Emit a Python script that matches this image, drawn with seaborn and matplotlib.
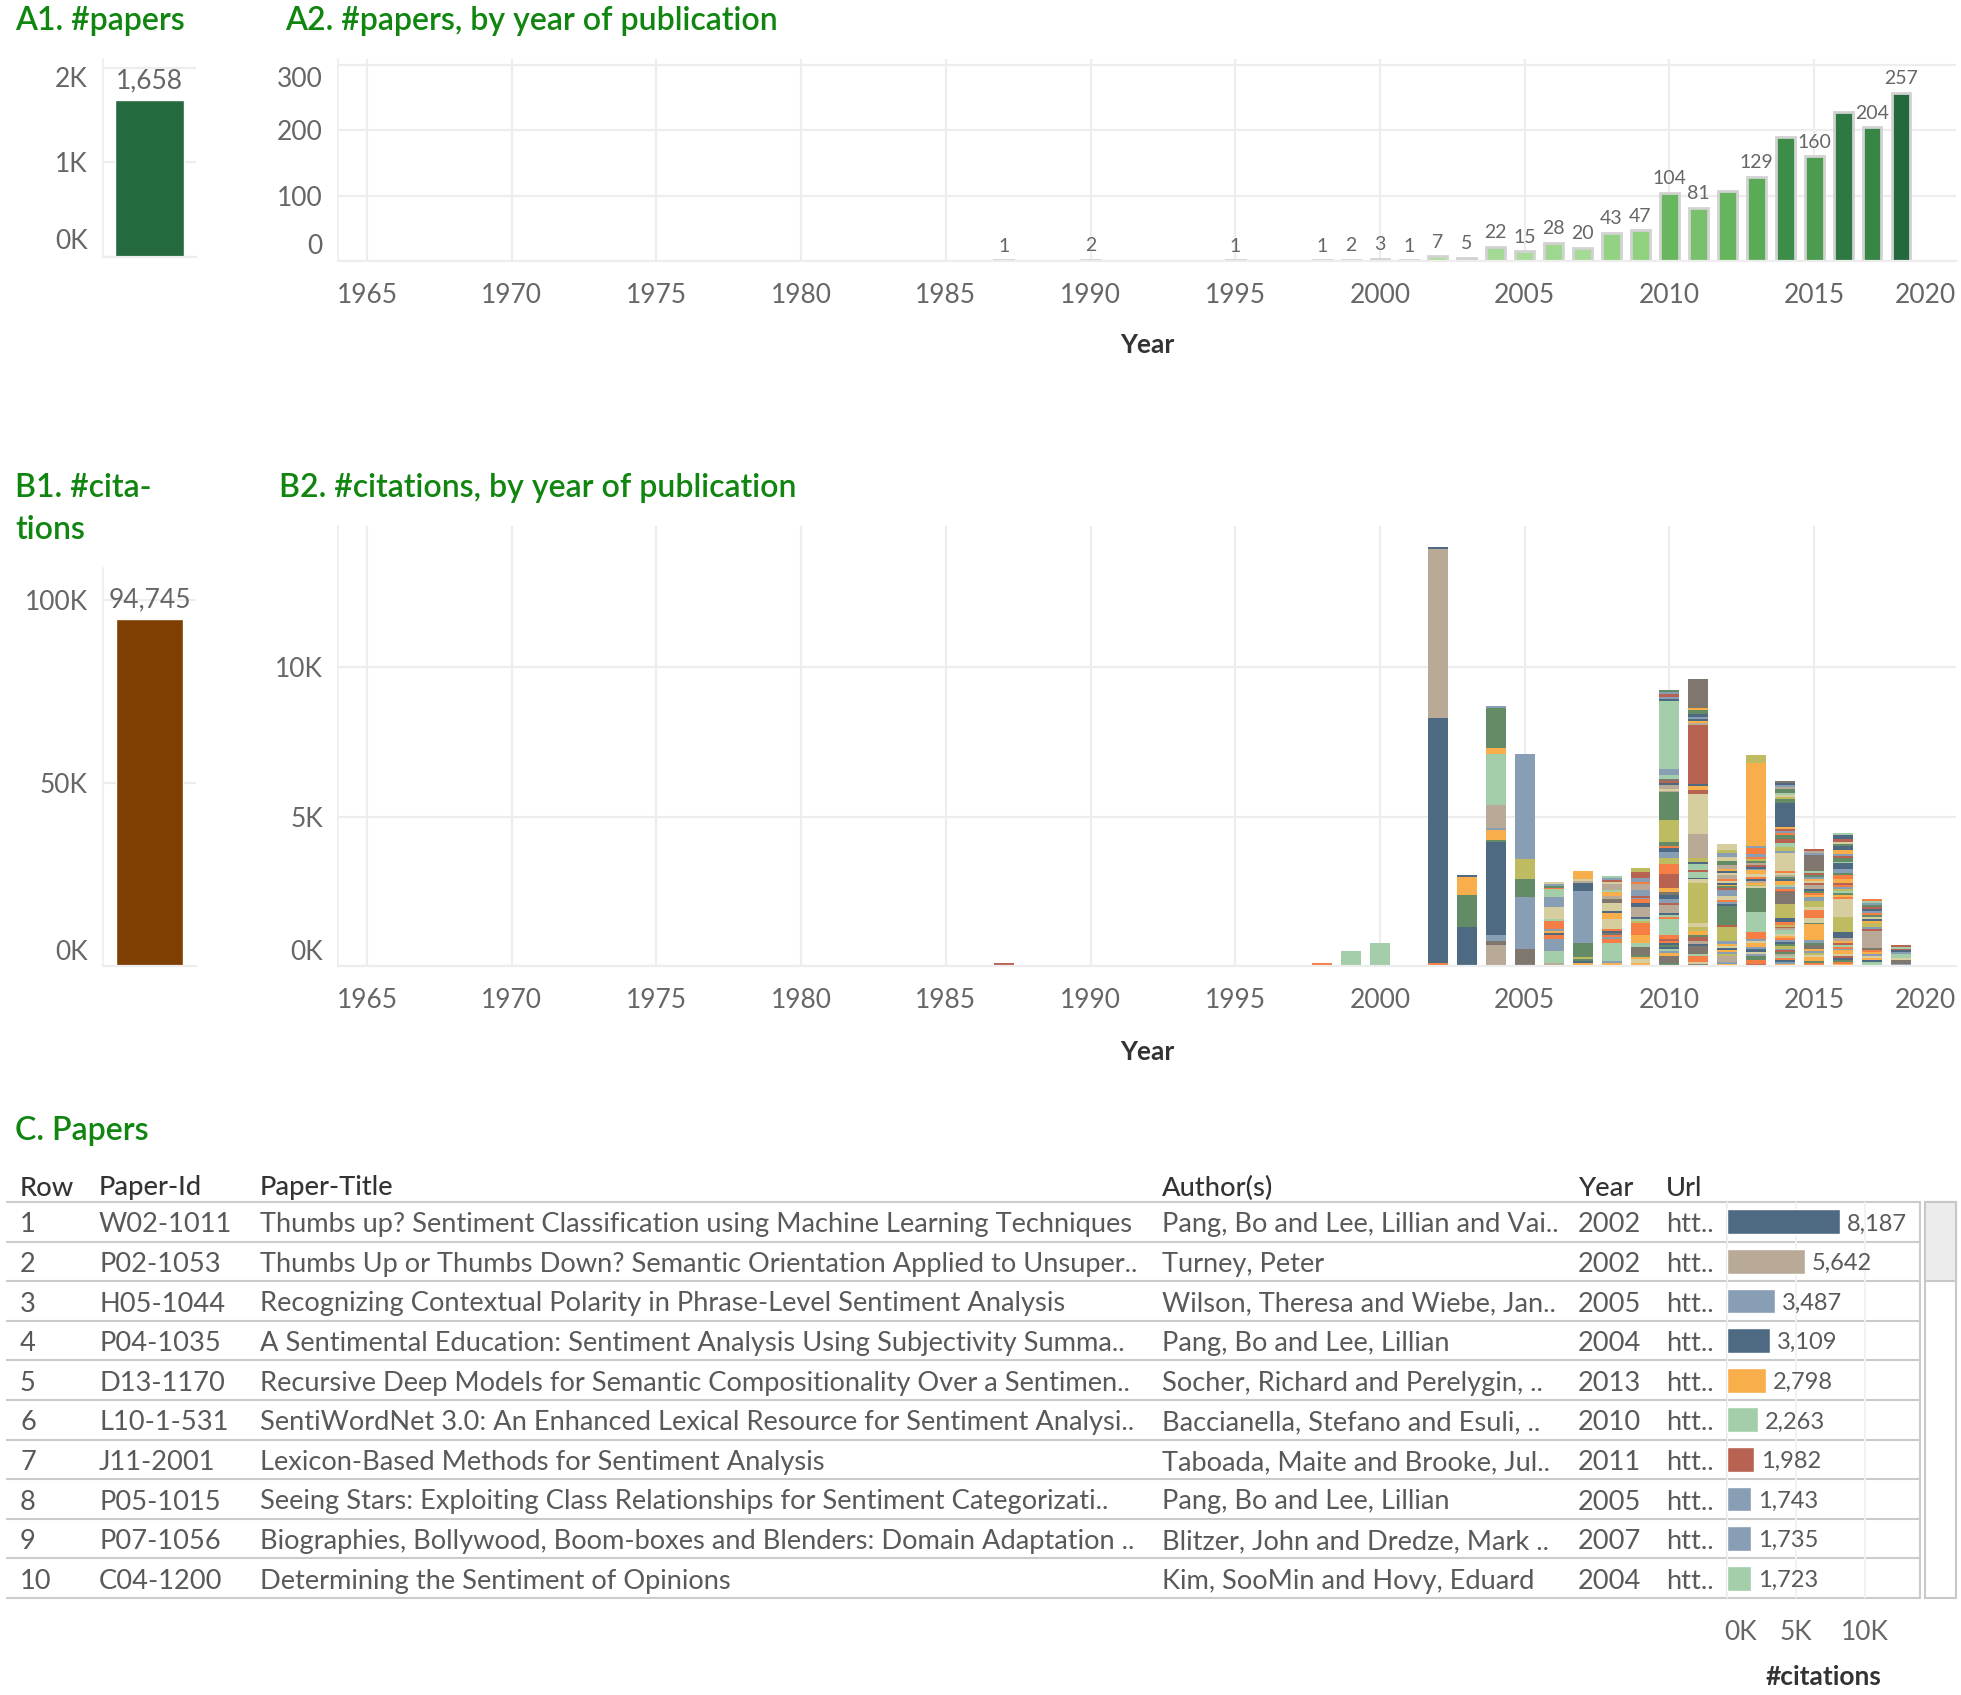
import numpy as np
import pandas as pd
import matplotlib
matplotlib.use("Agg")
import matplotlib.pyplot as plt
import matplotlib.transforms as mtransforms
from matplotlib.colors import LinearSegmentedColormap, Normalize
from matplotlib.patches import Rectangle
import seaborn as sns

# ---------------- data ----------------
total_papers = 1658
total_citations = 94745

years_a = [1987, 1990, 1995, 1998, 1999, 2000, 2001, 2002, 2003, 2004, 2005, 2006,
           2007, 2008, 2009, 2010, 2011, 2012, 2013, 2014, 2015, 2016, 2017, 2018]
papers_a = [1, 2, 1, 1, 2, 3, 1, 7, 5, 22, 15, 28,
            20, 43, 47, 104, 81, 107, 129, 190, 160, 228, 204, 257]
papers_label_shown = [1, 1, 1, 1, 1, 1, 1, 1, 1, 1, 1, 1,
                      1, 1, 1, 1, 1, 0, 1, 0, 1, 0, 1, 1]

year_ticks = [1965, 1970, 1975, 1980, 1985, 1990, 1995, 2000, 2005, 2010, 2015]
year_tick_labels = ["1965", "1970", "1975", "1980", "1985", "1990", "1995",
                    "2000", "2005", "2010", "2015"]

# citations per paper, stacked bottom -> top, with colour keys
seg_1987_vals = [110]
seg_1987_cols = "R"
seg_1990_vals = [45]
seg_1990_cols = "R"
seg_1998_vals = [110]
seg_1998_cols = "E"
seg_1999_vals = [510]
seg_1999_cols = "G"
seg_2000_vals = [780]
seg_2000_cols = "G"
seg_2002_vals = [110, 8187, 5642, 70]
seg_2002_cols = "EDTD"
seg_2003_vals = [1310, 1070, 600, 70]
seg_2003_cols = "DNOD"
seg_2004_vals = [710, 130, 200, 3109, 70, 330, 70, 760, 1723, 200, 1330, 70]
seg_2004_cols = "TBLDNOLTGONL"
seg_2005_vals = [580, 1743, 600, 670, 3487]
seg_2005_cols = "BLNVL"
seg_2006_vals = [110, 400, 400, 130, 65, 65, 65, 270, 65, 400, 330, 260, 65, 65, 65, 65]
seg_2006_cols = "TGLEDOLEGKLGENLK"
seg_2007_vals = [45, 65, 65, 65, 65, 470, 1735, 270, 65, 65, 270]
seg_2007_cols = "BODNVNLDTKO"
seg_2008_vals = [110, 65, 600, 130, 65, 65, 65, 65, 65, 330, 200, 65, 270, 130, 130,
                 130, 65, 200, 65, 65, 65, 65]
seg_2008_cols = "OLGELEBDEKODKBTOGTKRLG"
seg_2009_vals = [45, 65, 130, 65, 65, 270, 130, 270, 400, 65, 65, 65, 330, 130, 130,
                 65, 65, 200, 200, 65, 130, 200, 130]
seg_2009_cols = "DOKONBGOEVGDTDELRLTELRV"
seg_2010_vals = [110, 210, 130, 65, 65, 65, 65, 65, 65, 65, 130, 65, 470, 65, 65, 65,
                 270, 65, 130, 130, 130, 130, 470, 330, 200, 200, 130, 65, 130, 730,
                 930, 65, 65, 130, 65, 65, 65, 130, 200, 2263, 65, 65, 130, 65, 65]
seg_2010_cols = "NBOLGDNDEREGGEGDTRLDBOREVLDENVNTKTDRBGLGDLRLN"
seg_2011_vals = [65, 55, 200, 65, 270, 65, 130, 130, 65, 130, 130, 130, 1330, 130, 65,
                 200, 65, 200, 65, 130, 800, 1330, 130, 130, 65, 1982, 65, 65, 65, 65,
                 130, 130, 65, 950]
seg_2011_cols = "BKEGBDTRNOVKVKDGRGDVTKRODRTODLDNOB"
seg_2012_vals = [65, 65, 200, 65, 65, 65, 65, 65, 65, 130, 470, 65, 620, 65, 65, 65,
                 130, 200, 65, 65, 65, 65, 65, 65, 130, 65, 65, 65, 130, 130, 130, 130,
                 130, 170]
seg_2012_cols = "OLTVLODKOLVRNDLEKLRNODKETKDOTNKLVK"
seg_2013_vals = [65, 130, 130, 65, 65, 130, 65, 130, 65, 65, 150, 65, 670, 800, 65, 65,
                 65, 65, 65, 65, 80, 130, 65, 65, 65, 65, 65, 65, 65, 85, 200, 65, 2798,
                 270]
seg_2013_cols = "RENLKDLOKLEEGNKVOTDEKOLDRTNVELELOV"
seg_2014_vals = [65, 65, 65, 65, 65, 65, 65, 65, 65, 85, 65, 65, 65, 65, 65, 65, 130, 65,
                 65, 65, 75, 130, 470, 400, 65, 65, 65, 65, 130, 65, 65, 65, 80, 65, 600,
                 65, 130, 130, 130, 130, 65, 65, 80, 75, 800, 130, 65, 65, 65, 130, 65,
                 65, 65, 80]
seg_2014_cols = "OLDEGTNRLVNDLEOKGTRVEDVBRELGODNTKEKLVGRNELRODNVKGNTLDB"
seg_2015_vals = [45, 65, 65, 130, 65, 65, 65, 65, 130, 65, 100, 530, 65, 135, 270, 130,
                 200, 130, 65, 65, 65, 65, 130, 65, 65, 65, 65, 65, 85, 65, 530, 65, 65, 70]
seg_2015_cols = "RENOKVLOBNLONKEKVLOENDTRKOLNRGBLTR"
seg_2016_vals = [65, 65, 65, 65, 65, 65, 130, 65, 65, 65, 65, 65, 80, 200, 530, 600, 65,
                 65, 65, 65, 65, 65, 65, 65, 130, 130, 65, 130, 200, 65, 130, 65, 65, 130,
                 130, 65, 65, 110, 130, 65]
seg_2016_cols = "OENDRKOLEGROTDVKEONGVLEROENLDGNRLODNKRDG"
seg_2017_vals = [130, 65, 65, 65, 65, 65, 65, 75, 590, 65, 65, 130, 65, 65, 65, 65, 65,
                 65, 65, 65, 65, 65, 65, 95]
seg_2017_cols = "GDOKLOEBTRLVODKNELDRNLGE"
seg_2018_vals = [65, 130, 65, 130, 65, 65, 55, 65, 65]
seg_2018_cols = "LBKGLDRGR"

years_b = [1987, 1990, 1998, 1999, 2000, 2002, 2003, 2004, 2005, 2006, 2007, 2008,
           2009, 2010, 2011, 2012, 2013, 2014, 2015, 2016, 2017, 2018]

# table
row_nums = ["1", "2", "3", "4", "5", "6", "7", "8", "9", "10"]
paper_ids = ["W02-1011", "P02-1053", "H05-1044", "P04-1035", "D13-1170", "L10-1-531",
             "J11-2001", "P05-1015", "P07-1056", "C04-1200"]
paper_titles = [
    "Thumbs up? Sentiment Classification using Machine Learning Techniques",
    "Thumbs Up or Thumbs Down? Semantic Orientation Applied to Unsuper..",
    "Recognizing Contextual Polarity in Phrase-Level Sentiment Analysis",
    "A Sentimental Education: Sentiment Analysis Using Subjectivity Summa..",
    "Recursive Deep Models for Semantic Compositionality Over a Sentimen..",
    "SentiWordNet 3.0: An Enhanced Lexical Resource for Sentiment Analysi..",
    "Lexicon-Based Methods for Sentiment Analysis",
    "Seeing Stars: Exploiting Class Relationships for Sentiment Categorizati..",
    "Biographies, Bollywood, Boom-boxes and Blenders: Domain Adaptation ..",
    "Determining the Sentiment of Opinions",
]
paper_authors = [
    "Pang, Bo and Lee, Lillian and Vai..",
    "Turney, Peter",
    "Wilson, Theresa and Wiebe, Jan..",
    "Pang, Bo and Lee, Lillian",
    "Socher, Richard and Perelygin, ..",
    "Baccianella, Stefano and Esuli, ..",
    "Taboada, Maite and Brooke, Jul..",
    "Pang, Bo and Lee, Lillian",
    "Blitzer, John and Dredze, Mark ..",
    "Kim, SooMin and Hovy, Eduard",
]
paper_years = ["2002", "2002", "2005", "2004", "2013", "2010", "2011", "2005", "2007", "2004"]
paper_urls = ["htt..", "htt..", "htt..", "htt..", "htt..", "htt..", "htt..", "htt..", "htt..", "htt.."]
paper_citations = [8187, 5642, 3487, 3109, 2798, 2263, 1982, 1743, 1735, 1723]
paper_color_keys = ["D", "T", "L", "D", "O", "G", "R", "L", "L", "G"]
table_headers = ["Row", "Paper-Id", "Paper-Title", "Author(s)", "Year", "Url"]

# ---------------- style ----------------
PAL = {"D": "#4e6a83", "T": "#b9aa97", "L": "#879eb4", "O": "#f9ae4c", "G": "#a3cea9",
       "R": "#b86252", "N": "#638b65", "V": "#bfbb60", "K": "#d7ce9f", "B": "#7f766d",
       "E": "#f47e44"}
GRID = "#ededed"
TICKC = "#666666"
TITLEC = "#108510"
TXT = "#595959"
HDR = "#333333"
TITLE_FS = 23
TABLE_FS = 19.6

W, H = 1961, 1695
sns.set_theme(style="white")
plt.rcParams["font.family"] = ["Lato", "DejaVu Sans"]

fig = plt.figure(figsize=(W / 100, H / 100), dpi=100)


def add_ax(x0, y0, x1, y1, **kw):
    return fig.add_axes([x0 / W, 1 - y1 / H, (x1 - x0) / W, (y1 - y0) / H], **kw)


def style_axes(ax, xgrid=True):
    ax.spines["top"].set_visible(False)
    ax.spines["right"].set_visible(False)
    ax.spines["left"].set_color(GRID)
    ax.spines["left"].set_linewidth(1.2)
    ax.spines["bottom"].set_color(GRID)
    ax.spines["bottom"].set_linewidth(1.6)
    ax.grid(True, axis="y", color=GRID, linewidth=1.6)
    if xgrid:
        ax.grid(True, axis="x", color=GRID, linewidth=1.6)
    ax.set_axisbelow(True)
    ax.tick_params(colors=GRID, labelcolor=TICKC, labelsize=19, length=7, width=1.6)
    ax.tick_params(axis="y", pad=4)
    ax.tick_params(axis="x", pad=9)


def shift_label(ax, axis, idx, dx_px=0, dy_px=0):
    ticks = (ax.yaxis if axis == "y" else ax.xaxis).get_major_ticks()
    lab = ticks[idx].label1
    lab.set_transform(lab.get_transform() +
                      mtransforms.ScaledTranslation(dx_px / 100, dy_px / 100, fig.dpi_scale_trans))


# overlay for table lines / texts
ov = add_ax(0, 0, W, H)
ov.set_xlim(0, W)
ov.set_ylim(H, 0)
ov.axis("off")

# titles
title_kw = dict(ha="left", va="center", fontsize=TITLE_FS, color=TITLEC, fontweight="semibold")
fig.text(15 / W, 1 - 21 / H, "A1. #papers", **title_kw)
fig.text(285 / W, 1 - 21 / H, "A2. #papers, by year of publication", **title_kw)
fig.text(15 / W, 1 - 488 / H, "B1. #cita-", **title_kw)
fig.text(15 / W, 1 - 530 / H, "tions", **title_kw)
fig.text(279 / W, 1 - 488 / H, "B2. #citations, by year of publication", **title_kw)
fig.text(15 / W, 1 - 1131 / H, "C. Papers", **title_kw)

# ---------------- A1 ----------------
a1 = add_ax(103, 59, 196, 257)
sns.barplot(x=["All"], y=[total_papers], color="#25693e", width=0.75, ax=a1,
            errorbar=None, saturation=1)
style_axes(a1, xgrid=False)
a1.set_xlim(-0.5, 0.5)
a1.set_ylim(0, 2095)
a1.set_yticks([0, 1000, 2000])
a1.set_yticklabels(["0K", "1K", "2K"])
a1.tick_params(axis="x", bottom=False, labelbottom=False)
a1.set_xlabel("")
a1.set_ylabel("")
a1.annotate(f"{total_papers:,}", (0, total_papers), xytext=(0, 5), textcoords="offset points",
            ha="center", va="bottom", fontsize=19, color=TICKC)
shift_label(a1, "y", 0, dy_px=18)
shift_label(a1, "y", 2, dy_px=-9)

# ---------------- A2 ----------------
green_cmap = LinearSegmentedColormap.from_list(
    "tabgreen", [(0.0, "#b3e0a6"), (0.2, "#8ccf7c"), (0.45, "#60b158"),
                 (0.75, "#3b8c47"), (1.0, "#24693d")])
df_a = pd.DataFrame({"year": years_a, "papers": papers_a})
a2 = add_ax(338, 59, 1956, 261)
sns.barplot(data=df_a, x="year", y="papers", hue="papers", palette=green_cmap,
            hue_norm=Normalize(1, 257), native_scale=True, dodge=False, legend=False,
            width=0.65, edgecolor="#d2d2d2", linewidth=2, errorbar=None, saturation=1, ax=a2)
style_axes(a2)
a2.set_xlim(1964.0, 2019.9)
a2.set_ylim(0, 308.6)
a2.set_yticks([0, 100, 200, 300])
a2.set_yticklabels(["0", "100", "200", "300"])
a2.set_xticks(year_ticks)
a2.set_xticklabels(year_tick_labels)
a2.set_ylabel("")
a2.set_xlabel("Year", fontsize=19, fontweight="bold", color=HDR, labelpad=18)
for yr, p, show in zip(years_a, papers_a, papers_label_shown):
    if show:
        a2.annotate(str(p), (yr, p), xytext=(0, 4), textcoords="offset points",
                    ha="center", va="bottom", fontsize=14, color=TICKC)
a2.annotate("2020", xy=(2019.9, 0), xycoords=("data", "axes fraction"),
            xytext=(0, -16), textcoords="offset points", ha="right", va="top",
            fontsize=19, color=TICKC, annotation_clip=False)
shift_label(a2, "y", 0, dy_px=17)
shift_label(a2, "y", 3, dy_px=-12)

# ---------------- B1 ----------------
b1 = add_ax(103, 568, 196, 966)
sns.barplot(x=["All"], y=[total_citations], color="#7f3f02", width=0.71, ax=b1,
            errorbar=None, saturation=1)
style_axes(b1, xgrid=False)
b1.set_xlim(-0.5, 0.5)
b1.set_ylim(0, 108800)
b1.set_yticks([0, 50000, 100000])
b1.set_yticklabels(["0K", "50K", "100K"])
b1.tick_params(axis="x", bottom=False, labelbottom=False)
b1.set_xlabel("")
b1.set_ylabel("")
b1.annotate(f"{total_citations:,}", (0, total_citations), xytext=(0, 5),
            textcoords="offset points", ha="center", va="bottom", fontsize=19, color=TICKC)
shift_label(b1, "y", 0, dy_px=16)

# ---------------- B2 ----------------
segs = {
    1987: (seg_1987_vals, seg_1987_cols), 1990: (seg_1990_vals, seg_1990_cols),
    1998: (seg_1998_vals, seg_1998_cols), 1999: (seg_1999_vals, seg_1999_cols),
    2000: (seg_2000_vals, seg_2000_cols), 2002: (seg_2002_vals, seg_2002_cols),
    2003: (seg_2003_vals, seg_2003_cols), 2004: (seg_2004_vals, seg_2004_cols),
    2005: (seg_2005_vals, seg_2005_cols), 2006: (seg_2006_vals, seg_2006_cols),
    2007: (seg_2007_vals, seg_2007_cols), 2008: (seg_2008_vals, seg_2008_cols),
    2009: (seg_2009_vals, seg_2009_cols), 2010: (seg_2010_vals, seg_2010_cols),
    2011: (seg_2011_vals, seg_2011_cols), 2012: (seg_2012_vals, seg_2012_cols),
    2013: (seg_2013_vals, seg_2013_cols), 2014: (seg_2014_vals, seg_2014_cols),
    2015: (seg_2015_vals, seg_2015_cols), 2016: (seg_2016_vals, seg_2016_cols),
    2017: (seg_2017_vals, seg_2017_cols), 2018: (seg_2018_vals, seg_2018_cols),
}
b2 = add_ax(338, 526, 1956, 966)
style_axes(b2)
for yr in years_b:
    vals, cols = segs[yr]
    vals = np.asarray(vals, dtype=float)
    bottoms = np.concatenate([[0.0], np.cumsum(vals)[:-1]])
    b2.bar(np.full(len(vals), yr), vals, bottom=bottoms, width=0.69,
           color=[PAL[c] for c in cols], linewidth=0)
b2.set_xlim(1964.0, 2019.9)
b2.set_ylim(0, 14720)
b2.set_yticks([0, 5000, 10000])
b2.set_yticklabels(["0K", "5K", "10K"])
b2.set_xticks(year_ticks)
b2.set_xticklabels(year_tick_labels)
b2.set_xlabel("Year", fontsize=19, fontweight="bold", color=HDR, labelpad=19)
b2.annotate("2020", xy=(2019.9, 0), xycoords=("data", "axes fraction"),
            xytext=(0, -16), textcoords="offset points", ha="right", va="top",
            fontsize=19, color=TICKC, annotation_clip=False)
shift_label(b2, "y", 0, dy_px=16)

# ---------------- C. table ----------------
row_top = 1202
row_h = 39.6
col_x = [20, 99, 260, 1162, 1578, 1666]
for hx, htxt in zip(col_x, table_headers):
    ov.text(hx, 1188, htxt, ha="left", va="center", fontsize=TABLE_FS, color=HDR,
            fontweight="medium")
for i in range(11):
    yy = row_top + i * row_h
    ov.plot([6, 1921], [yy, yy], color="#cbcbcb", lw=1.5, solid_capstyle="butt")
ov.plot([1727, 1727], [row_top, row_top + 10 * row_h], color="#e4e4e4", lw=1.2)
ov.plot([1920, 1920], [row_top, row_top + 10 * row_h], color="#cbcbcb", lw=1.5)
for i in range(10):
    yc = row_top + (i + 0.5) * row_h + 3
    for cx, txt in zip(col_x, [row_nums[i], paper_ids[i], paper_titles[i],
                               paper_authors[i], paper_years[i], paper_urls[i]]):
        ov.text(cx, yc, txt, ha="left", va="center", fontsize=TABLE_FS, color=TXT)
# scrollbar
ov.add_patch(Rectangle((1925, row_top), 31, 10 * row_h, facecolor="white",
                       edgecolor="#c8c8c8", lw=1.5))
ov.add_patch(Rectangle((1925, row_top), 31, 79, facecolor="#ececec",
                       edgecolor="#c8c8c8", lw=1.5))

tb = add_ax(1727, row_top, 1920, row_top + 10 * row_h)
tb.set_facecolor("none")
df_t = pd.DataFrame({"row": row_nums, "citations": paper_citations})
sns.barplot(data=df_t, x="citations", y="row", hue="row",
            palette=[PAL[k] for k in paper_color_keys], legend=False, orient="h",
            width=0.63, errorbar=None, saturation=1, ax=tb)
tb.set_xlim(0, 14000)
tb.set_ylim(9.5, -0.5)
for s in tb.spines.values():
    s.set_visible(False)
tb.grid(True, axis="x", color="#f2f2f2", linewidth=1.4)
tb.grid(False, axis="y")
tb.set_axisbelow(True)
tb.set_yticks([])
tb.set_ylabel("")
tb.set_xticks([0, 5000, 10000])
tb.set_xticklabels(["0K", "5K", "10K"])
tb.tick_params(axis="x", colors="#f2f2f2", labelcolor=TICKC, labelsize=19, length=8,
               width=1.4, pad=8)
tb.set_xlabel("#citations", fontsize=19, fontweight="bold", color=HDR, labelpad=14)
for i, v in enumerate(paper_citations):
    tb.annotate(f"{v:,}", (v, i), xytext=(5, -1.5), textcoords="offset points",
                ha="left", va="center", fontsize=17, color=TXT)
shift_label(tb, "x", 0, dx_px=14)

fig.savefig("out.png", dpi=100, facecolor="white")
